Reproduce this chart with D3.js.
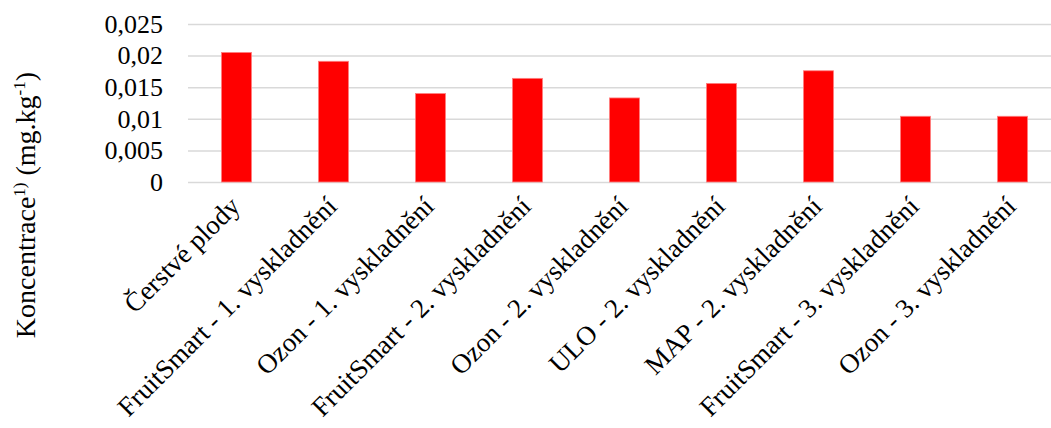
<!DOCTYPE html>
<html>
<head>
<meta charset="utf-8">
<script src="https://cdn.jsdelivr.net/npm/d3@7"></script>
<style>
  body { margin: 0; background: #fff; }
  svg { font-family: "Liberation Serif", "Times New Roman", serif; }
</style>
</head>
<body>
<svg id="graph"></svg>
<script>
// data
const categories = [
  'Čerstvé plody',
  'FruitSmart - 1. vyskladnění',
  'Ozon - 1. vyskladnění',
  'FruitSmart - 2. vyskladnění',
  'Ozon - 2. vyskladnění',
  'ULO - 2. vyskladnění',
  'MAP - 2. vyskladnění',
  'FruitSmart - 3. vyskladnění',
  'Ozon - 3. vyskladnění'
];
const values = [0.0205, 0.0191, 0.0140, 0.0164, 0.0133, 0.0156, 0.0176, 0.0104, 0.0104];
const yTicks = [0, 0.005, 0.01, 0.015, 0.02, 0.025];

var svgWidth = 1051;
var svgHeight = 428;
var plotLeft = 188, plotTop = 24, plotBottom = 182;
var step = 97;

var svg = d3.select('#graph')
    .attr('width', svgWidth)
    .attr('height', svgHeight);

var x = d3.scaleBand()
    .domain(categories)
    .range([plotLeft, plotLeft + step * categories.length])
    .paddingInner(0.69)
    .paddingOuter(0.345);

var y = d3.scaleLinear()
    .domain([0, 0.025])
    .range([plotBottom, plotTop]);

var fmt = d => String(d).replace('.', ',');

// gridlines
svg.append('g')
    .attr('transform', 'translate(' + plotLeft + ',0)')
    .call(d3.axisLeft(y).tickValues(yTicks).tickSize(-(svgWidth - plotLeft)).tickFormat(''))
    .call(g => g.select('.domain').remove())
    .call(g => g.selectAll('line').attr('stroke', '#d9d9d9').attr('stroke-width', 1.5));

// y axis labels
svg.append('g')
    .attr('transform', 'translate(' + (plotLeft - 25) + ',0)')
    .call(d3.axisLeft(y).tickValues(yTicks).tickSize(0).tickPadding(0).tickFormat(fmt))
    .call(g => g.select('.domain').remove())
    .call(g => g.selectAll('text')
        .attr('font-family', '"Liberation Serif", "Times New Roman", serif')
        .attr('font-size', 26)
        .attr('fill', '#000'));

// bars
svg.selectAll('rect.bar')
    .data(values)
    .enter()
    .append('rect')
    .attr('class', 'bar')
    .attr('x', (d, i) => x(categories[i]))
    .attr('y', d => y(d))
    .attr('width', x.bandwidth())
    .attr('height', d => plotBottom - y(d))
    .attr('fill', '#ff0000')
    .attr('stroke', '#ff8080')
    .attr('stroke-width', 0.8);

// category labels
svg.append('g')
    .selectAll('text')
    .data(categories)
    .enter()
    .append('text')
    .attr('transform', d => 'translate(' + (x(d) + x.bandwidth() / 2 + 5) + ',' + 208 + ') rotate(-45)')
    .attr('text-anchor', 'end')
    .attr('font-size', 27)
    .attr('fill', '#000')
    .text(d => d);

// y title
var title = svg.append('text')
    .attr('transform', 'translate(35,205) rotate(-90)')
    .attr('text-anchor', 'middle')
    .attr('font-size', 28)
    .attr('fill', '#000');
title.append('tspan').text('Koncentrace');
title.append('tspan').attr('font-size', 17).attr('dy', -10).text('1)');
title.append('tspan').attr('dy', 10).text(' (mg.kg');
title.append('tspan').attr('font-size', 17).attr('dy', -10).text('-1');
title.append('tspan').attr('dy', 10).text(')');
</script>
</body>
</html>
